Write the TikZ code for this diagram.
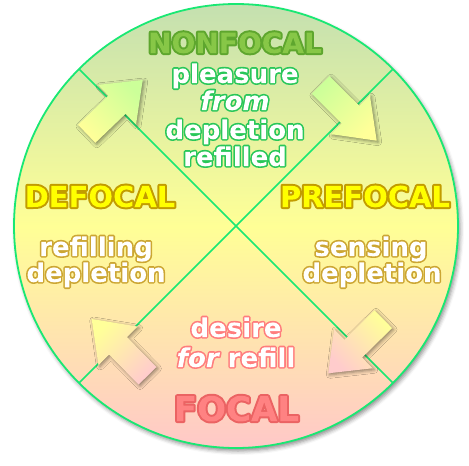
\documentclass[tikz,border=0pt]{standalone}
\usepackage{fontspec}
\setmainfont{DejaVu Sans}
\usetikzlibrary{calc,shadows.blur}
\definecolor{ring}{RGB}{25,232,115}
\definecolor{bgtop}{RGB}{196,224,176}
\definecolor{bgmid}{RGB}{255,255,150}
\definecolor{bgbot}{RGB}{255,200,200}
\definecolor{nonfill}{RGB}{135,198,72}
\definecolor{yelfill}{RGB}{255,255,0}
\definecolor{focfill}{RGB}{255,130,130}
\definecolor{arrgreen}{RGB}{204,255,153}
\definecolor{arryellow}{RGB}{255,255,153}
\definecolor{arrpink}{RGB}{255,204,204}
% colours as PDF rgb triples
\def\ocNon{0.37 0.65 0.18}
\def\ocGreen{0.16 0.78 0.35}
\def\ocYel{0.76 0.61 0.0}
\def\ocGold{0.80 0.65 0.20}
\def\ocPink{1.0 0.49 0.49}
\def\ocFoc{0.92 0.39 0.39}
\def\fcWhite{1 1 1}
\def\fcNon{0.53 0.78 0.28}
\def\fcYel{1 1 0}
\def\fcFoc{1 0.51 0.51}
% text drawn once: stroked and used as clip (render mode 5), then filled inside the clip
\newcommand\outl[4]{\special{pdf:literal direct 5 Tr #1 w 1 j #2 RG}#4\special{pdf:literal direct 0 Tr}\special{pdf:literal #3 rg -400 -40 420 100 re f}}
\newcommand\fatarrow[4]{%
  \coordinate (#1-h) at ($(#1-t)!42pt!(#1-p)$);
  \path[fatarrowstyle, bottom color=#2, top color=#3, shading angle=#4]
    ($(#1-t)!12.5pt!90:(#1-p)$) -- ($(#1-h)!12.5pt!90:(#1-p)$) -- ($(#1-h)!27.5pt!90:(#1-p)$)
    -- (#1-p) -- ($(#1-h)!27.5pt!-90:(#1-p)$) -- ($(#1-h)!12.5pt!-90:(#1-p)$)
    -- ($(#1-t)!12.5pt!-90:(#1-p)$) -- cycle;
}
\tikzset{
  fatarrowstyle/.style={blur shadow={shadow xshift=1.5pt, shadow yshift=-1.5pt, shadow blur radius=3.5pt, shadow opacity=45}},
  caplbl/.style={font=\fontsize{29}{29}\selectfont\bfseries, inner sep=0pt, anchor=base},
  bodylbl/.style={font=\fontsize{26}{28}\selectfont\bfseries, inner sep=0pt, anchor=base, text=white},
  xline/.style={draw=ring, line width=1.5pt},
}
\begin{document}
\begin{tikzpicture}[x=1pt, y=-1pt]
\useasboundingbox (0,0) rectangle (469,466);
% disc
\node[circle, minimum size=444pt, inner sep=0pt, outer sep=0pt,
      top color=bgtop, bottom color=bgbot, middle color=bgmid,
      draw=ring, line width=1.8pt,
      blur shadow={shadow xshift=2pt, shadow yshift=-3pt, shadow blur radius=4pt, shadow opacity=45}]
      (disc) at (236,226) {};
\draw[xline] (disc.135) -- (disc.-45);
\draw[xline] (disc.45) -- (disc.-135);
% arrows
\coordinate (tl-t) at (86.7,133.8); \coordinate (tl-p) at (142.7,80);
\fatarrow{tl}{arryellow}{arrgreen}{-45}
\coordinate (tr-t) at (320.7,85); \coordinate (tr-p) at (376.7,140.7);
\fatarrow{tr}{arrgreen}{arryellow}{-135}
\coordinate (bl-t) at (147.5,375.8); \coordinate (bl-p) at (91.7,319);
\fatarrow{bl}{arrpink}{arryellow}{45}
\coordinate (br-t) at (383.3,319.2); \coordinate (br-p) at (328.3,373.3);
\fatarrow{br}{arryellow}{arrpink}{135}
% labels
\node[caplbl, font=\fontsize{28}{28}\selectfont\bfseries, text=nonfill] (nonfocal) at (235,53) {\outl{4}{\ocNon}{\fcNon}{NONFOCAL}};
\node[bodylbl] (pleasure) at (235,83) {\outl{3.2}{\ocGreen}{\fcWhite}{pleasure}};
\node[bodylbl] (from) at (235,110) {\outl{3.2}{\ocGreen}{\fcWhite}{\itshape from}};
\node[bodylbl] (deplA) at (235,139) {\outl{3.2}{\ocGreen}{\fcWhite}{depletion}};
\node[bodylbl] (refilled) at (235,166) {\outl{3.2}{\ocGreen}{\fcWhite}{refilled}};
\node[caplbl, text=yelfill] (defocal) at (100,207) {\outl{4}{\ocYel}{\fcYel}{DEFOCAL}};
\node[caplbl, text=yelfill] (prefocal) at (365,207) {\outl{4}{\ocYel}{\fcYel}{PREFOCAL}};
\node[bodylbl] (refilling) at (96,256) {\outl{3.2}{\ocGold}{\fcWhite}{refilling}};
\node[bodylbl] (deplB) at (96,282) {\outl{3.2}{\ocGold}{\fcWhite}{depletion}};
\node[bodylbl] (sensing) at (371,256) {\outl{3.2}{\ocGold}{\fcWhite}{sensing}};
\node[bodylbl] (deplC) at (372,282) {\outl{3.2}{\ocGold}{\fcWhite}{depletion}};
\node[bodylbl] (desire) at (236,337) {\outl{3.2}{\ocPink}{\fcWhite}{desire}};
\node[bodylbl] (forrefill) at (236,367) {\outl{3.2}{\ocPink}{\fcWhite}{{\itshape for} refill}};
\node[caplbl, font=\fontsize{34}{34}\selectfont\bfseries, text=focfill] (focal) at (236.5,421) {\outl{4}{\ocFoc}{\fcFoc}{FOCAL}};
\end{tikzpicture}
\end{document}
